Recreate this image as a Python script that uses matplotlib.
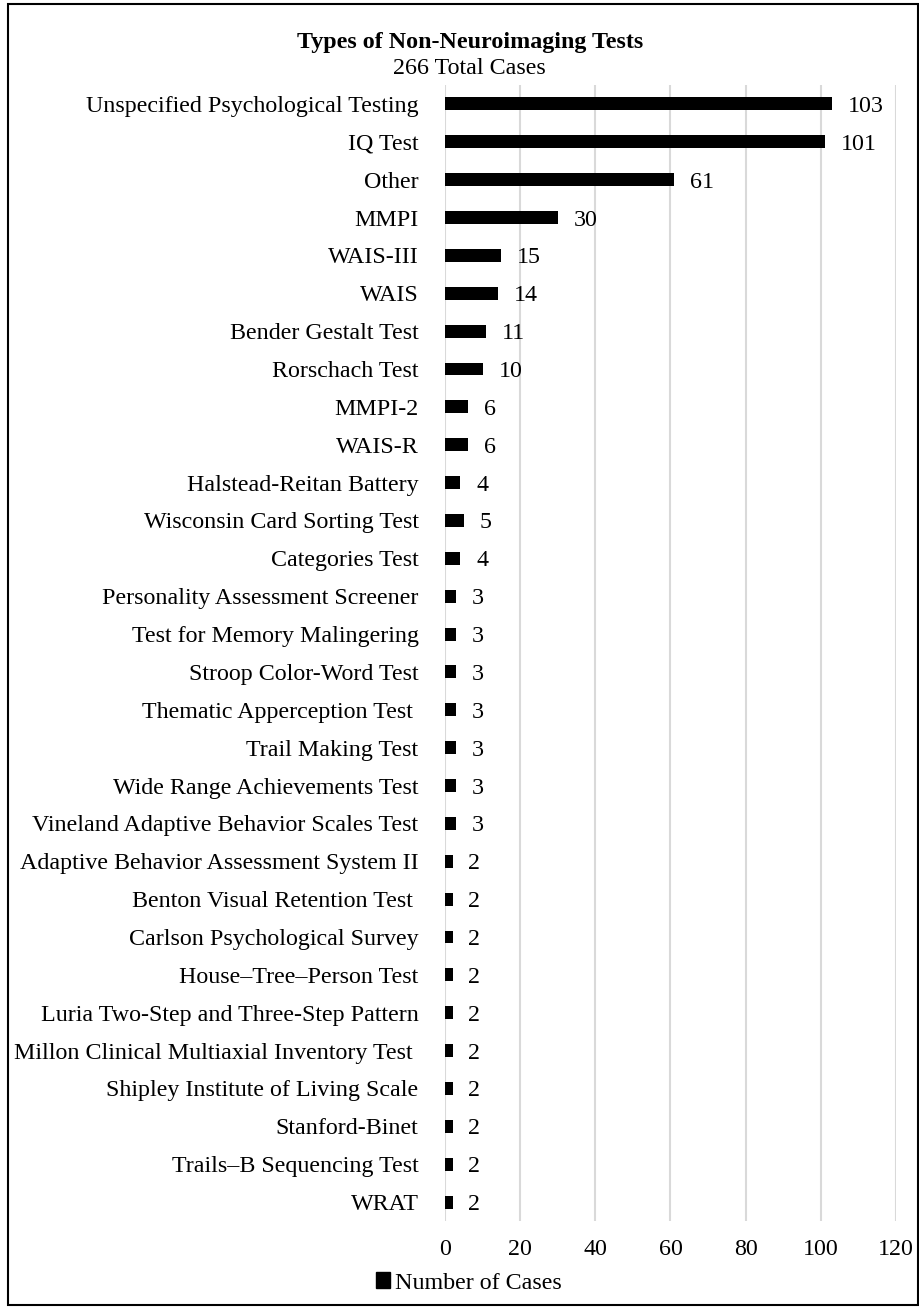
import matplotlib
matplotlib.use("Agg")
import matplotlib.pyplot as plt
from matplotlib.patches import Rectangle

# data, top to bottom as shown
tests = [
    "Unspecified Psychological Testing",
    "IQ Test",
    "Other",
    "MMPI",
    "WAIS-III",
    "WAIS",
    "Bender Gestalt Test",
    "Rorschach Test",
    "MMPI-2",
    "WAIS-R",
    "Halstead-Reitan Battery",
    "Wisconsin Card Sorting Test",
    "Categories Test",
    "Personality Assessment Screener",
    "Test for Memory Malingering",
    "Stroop Color-Word Test",
    "Thematic Apperception Test ",
    "Trail Making Test",
    "Wide Range Achievements Test",
    "Vineland Adaptive Behavior Scales Test",
    "Adaptive Behavior Assessment System II",
    "Benton Visual Retention Test ",
    "Carlson Psychological Survey",
    "House\u2013Tree\u2013Person Test",
    "Luria Two-Step and Three-Step Pattern",
    "Millon Clinical Multiaxial Inventory Test ",
    "Shipley Institute of Living Scale",
    "Stanford-Binet",
    "Trails\u2013B Sequencing Test",
    "WRAT",
]
cases = [103, 101, 61, 30, 15, 14, 11, 10, 6, 6, 4, 5, 4,
         3, 3, 3, 3, 3, 3, 3, 2, 2, 2, 2, 2, 2, 2, 2, 2, 2]
x_ticks = [0, 20, 40, 60, 80, 100, 120]

plt.rcParams['font.family'] = ['Liberation Serif', 'DejaVu Serif']
FS = 17.3

W, H = 920, 1309
fig = plt.figure(figsize=(W / 100, H / 100), dpi=100)
ax = fig.add_axes([445 / W, 1 - 1221 / H, (896 - 445) / W, (1221 - 85) / H])

pos = list(range(len(tests)))
ax.barh(pos, cases, height=0.34, color='black', zorder=3)
ax.set_ylim(len(tests) - 0.5, -0.5)
ax.set_xlim(0, 120)
ax.set_yticks(pos)
ax.set_yticklabels(tests, fontsize=FS, va='center_baseline')
ax.set_xticks(x_ticks)
ax.set_xticklabels([str(t) for t in x_ticks], fontsize=FS)
ax.tick_params(axis='y', length=0, pad=19)
ax.tick_params(axis='x', length=0, pad=13)
ax.grid(axis='x', color='#d9d9d9', linewidth=1.5, zorder=0)
for s in ax.spines.values():
    s.set_visible(False)

for p, v in zip(pos, cases):
    ax.annotate(str(v), (v, p), xytext=(11.5, 0), textcoords='offset points',
                ha='left', va='center_baseline', fontsize=FS)

fig.text(470 / W, 1 - 40 / H, "Types of Non-Neuroimaging Tests", ha='center', va='center_baseline',
         fontsize=FS, fontweight='bold')
fig.text(469 / W, 1 - 66 / H, "266 Total Cases", ha='center', va='center_baseline', fontsize=FS)

# legend
handle = Rectangle((0, 0), 1, 1, color='black')
fig.legend([handle], ["Number of Cases"], loc='center', bbox_to_anchor=(469 / W, 1 - 1283 / H),
           frameon=False, fontsize=FS, handlelength=0.6, handleheight=0.6, handletextpad=0.2)

# outer border
fig.patches.append(Rectangle((8 / W, 1 - 1305 / H), (918 - 8) / W, (1305 - 4) / H,
                             transform=fig.transFigure, fill=False, edgecolor='black',
                             linewidth=1.5))

fig.savefig("out.png", dpi=100)
